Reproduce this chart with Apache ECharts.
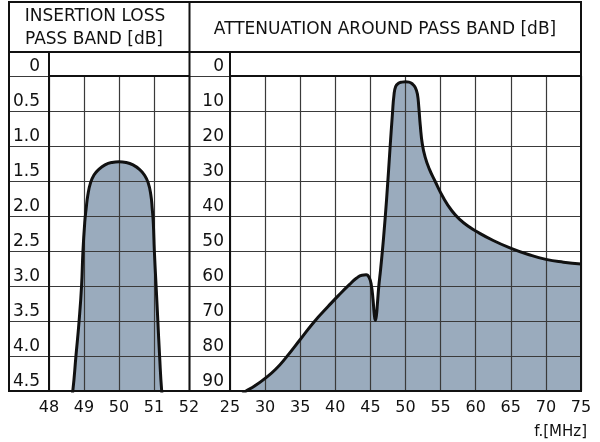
<!DOCTYPE html>
<html>
<head>
<meta charset="utf-8">
<script src="https://cdn.jsdelivr.net/npm/echarts@6/dist/echarts.min.js"></script>
<style>
  html, body { margin: 0; padding: 0; background: #fff; }
  #chart { width: 600px; height: 442px; }
</style>
</head>
<body>
<div id="chart"></div>
<script>
// insertion loss in the pass band: [MHz, dB]
const lossCurve = [
  [48.6, 4.75], [48.68, 4.5], [48.77, 4.0], [48.86, 3.5], [48.93, 3.0], [48.97, 2.5],
  [49.02, 2.1], [49.06, 1.9], [49.11, 1.7], [49.19, 1.52], [49.29, 1.41], [49.41, 1.34],
  [49.6, 1.27], [49.8, 1.235], [50.0, 1.225], [50.2, 1.235], [50.4, 1.27], [50.6, 1.34],
  [50.72, 1.41], [50.83, 1.52], [50.91, 1.7], [50.95, 1.9], [50.98, 2.1], [51.01, 2.5],
  [51.06, 3.0], [51.11, 3.5], [51.16, 4.0], [51.22, 4.5], [51.28, 4.75]
];
// attenuation around the pass band: [MHz, dB]
const attenCurve = [
  [26.0, 93], [27.0, 90.5], [28.5, 88.6], [30, 86.4], [31.5, 83.8], [33, 80.4], [35, 75.3],
  [37, 70.2], [39, 65.8], [40.5, 62.6], [42, 59.6], [43, 57.8], [43.8, 56.9], [44.4, 56.8],
  [44.85, 57.7], [45.15, 60], [45.38, 64], [45.55, 68], [45.7, 69.8], [45.85, 68.5],
  [46.0, 65], [46.2, 60], [46.45, 55.3], [46.85, 46.8], [47.3, 35.4], [47.8, 20.5],
  [48.15, 10.5], [48.35, 5.6], [48.6, 3.0], [49.0, 2.1], [49.5, 1.75], [50, 1.65],
  [50.5, 1.75], [51.0, 2.3], [51.4, 3.3], [51.7, 5.2], [51.9, 9], [52.1, 14], [52.4, 19.5],
  [52.8, 23.2], [53.4, 26.6], [54.2, 30], [55.4, 34.8], [56.6, 38.5], [57.8, 41.1],
  [59, 43], [60, 44.3], [62.5, 47], [65, 49.2], [67.5, 51], [70, 52.4], [72.5, 53.2], [75, 53.7]
];
const lossTicks = { min: 0, max: 4.5, step: 0.5 };
const attenTicks = { min: 0, max: 90, step: 10 };
const lossFreq = { min: 48, max: 52, step: 1 };
const attenFreq = { min: 25, max: 75, step: 5 };
const headers = ['INSERTION LOSS', 'PASS BAND [dB]', 'ATTENUATION AROUND PASS BAND [dB]'];
const unitLabel = 'f.[MHz]';

const FONT = 'DejaVu Sans';
const INK = '#111';
const GRID = '#3a3a3a';
const FILL = '#9aabbd';

const chart = echarts.init(document.getElementById('chart'));

const plotTop = 76, plotH = 315;
const grids = [
  { left: 49, top: plotTop, width: 140, height: plotH },   // loss plot
  { left: 230, top: plotTop, width: 351, height: plotH },  // attenuation plot
  { left: 9, top: plotTop, width: 40, height: plotH },     // loss label column
  { left: 189, top: plotTop, width: 41, height: plotH }    // attenuation label column
];

const splitLine = { show: true, lineStyle: { color: GRID, width: 1.2 } };

function valueX(idx, r) {
  return {
    gridIndex: idx, type: 'value', min: r.min, max: r.max, interval: r.step, z: 2,
    axisLine: { show: true, lineStyle: { color: INK, width: 2 } },
    axisTick: { show: false },
    splitLine,
    axisLabel: { fontFamily: FONT, fontSize: 16, color: INK, margin: 9 }
  };
}
function valueY(idx, r, labels, margin) {
  return {
    gridIndex: idx, type: 'value', inverse: true, min: r.min, max: r.max, interval: r.step, z: 2,
    axisLine: { show: false }, axisTick: { show: false },
    splitLine,
    axisLabel: labels ? {
      fontFamily: FONT, fontSize: 17, color: INK, margin,
      verticalAlign: 'bottom', padding: [0, 0, 1, 0],
      formatter: v => (r.step < 1 ? (v === 0 ? '0' : v.toFixed(1)) : String(v))
    } : { show: false }
  };
}

function areaSeries(idx, data) {
  return {
    type: 'line', xAxisIndex: idx, yAxisIndex: idx, data, smooth: 0.5,
    showSymbol: false, z: 1, lineStyle: { width: 0 },
    areaStyle: { color: FILL, opacity: 1, origin: 'end' }
  };
}
function lineSeries(idx, data) {
  return {
    type: 'line', xAxisIndex: idx, yAxisIndex: idx, data, smooth: 0.5,
    showSymbol: false, z: 3, lineStyle: { color: INK, width: 3 }
  };
}

chart.setOption({
  animation: false,
  grid: grids,
  xAxis: [
    valueX(0, lossFreq),
    valueX(1, attenFreq),
    { gridIndex: 2, type: 'value', min: 0, max: 1, show: false },
    { gridIndex: 3, type: 'value', min: 0, max: 1, show: false }
  ],
  yAxis: [
    valueY(0, lossTicks, true, 9),
    valueY(1, attenTicks, true, 6),
    valueY(2, lossTicks, false),
    valueY(3, attenTicks, false)
  ],
  series: [
    areaSeries(0, lossCurve), lineSeries(0, lossCurve),
    areaSeries(1, attenCurve), lineSeries(1, attenCurve)
  ],
  graphic: [
    { type: 'rect', shape: { x: 9, y: 2, width: 572, height: 389 }, style: { fill: null, stroke: INK, lineWidth: 2 }, z: 10 },
    { type: 'line', shape: { x1: 9, y1: 52, x2: 581, y2: 52 }, style: { stroke: INK, lineWidth: 2 }, z: 10 },
    { type: 'line', shape: { x1: 189.5, y1: 2, x2: 189.5, y2: 391 }, style: { stroke: INK, lineWidth: 2 }, z: 10 },
    { type: 'line', shape: { x1: 49, y1: 52, x2: 49, y2: 391 }, style: { stroke: INK, lineWidth: 2 }, z: 10 },
    { type: 'line', shape: { x1: 230, y1: 52, x2: 230, y2: 391 }, style: { stroke: INK, lineWidth: 2 }, z: 10 },
    { type: 'text', x: 95, y: 17, style: { text: headers[0], font: `17px "${FONT}"`, fill: INK, align: 'center', verticalAlign: 'middle' } },
    { type: 'text', x: 94, y: 40, style: { text: headers[1], font: `17px "${FONT}"`, fill: INK, align: 'center', verticalAlign: 'middle' } },
    { type: 'text', x: 385, y: 30, style: { text: headers[2], font: `17px "${FONT}"`, fill: INK, align: 'center', verticalAlign: 'middle' } },
    { type: 'text', x: 587, y: 432, style: { text: unitLabel, font: `15px "${FONT}"`, fill: INK, align: 'right', verticalAlign: 'middle' } }
  ]
});
</script>
</body>
</html>
